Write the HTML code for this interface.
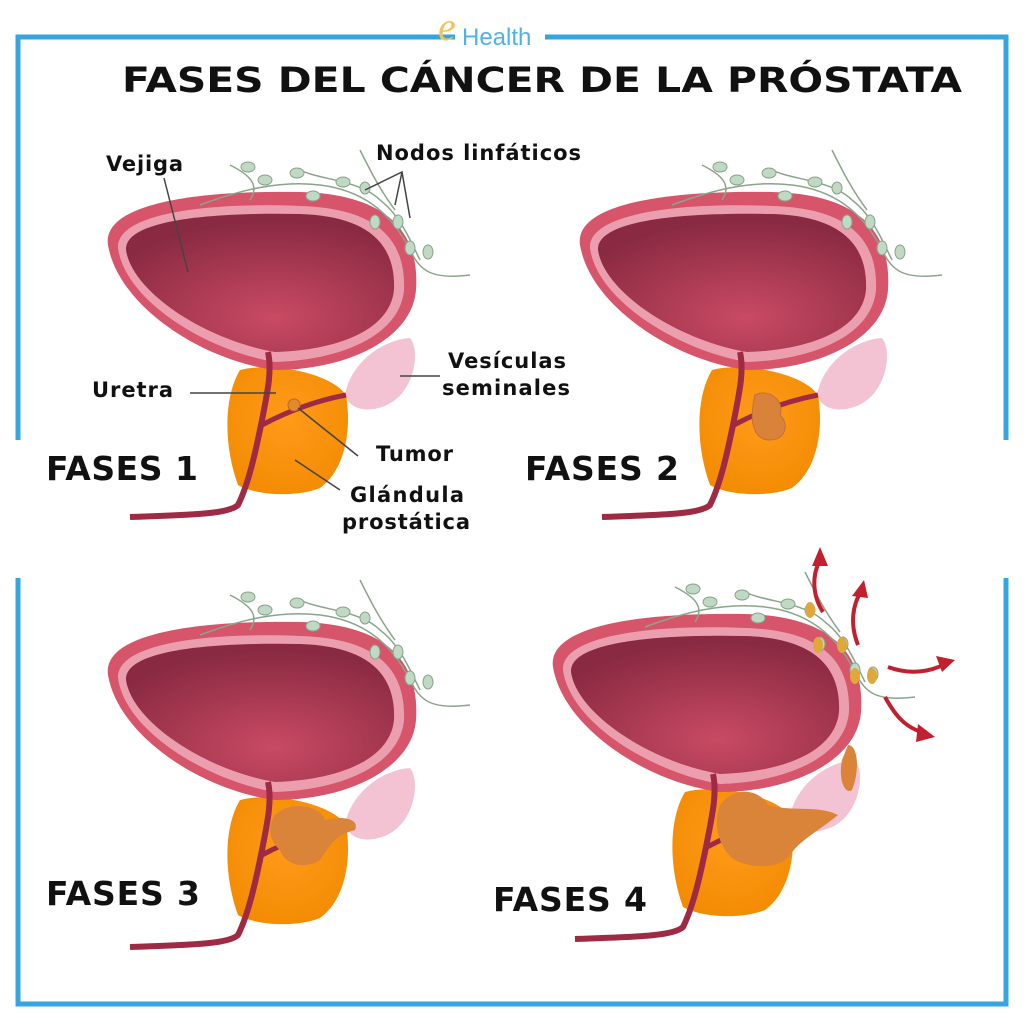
<!DOCTYPE html>
<html><head><meta charset="utf-8"><style>
html,body{margin:0;padding:0;background:#fff;}
svg{display:block;}
text{font-family:"DejaVu Sans","Liberation Sans",sans-serif;font-weight:bold;fill:#111;}
</style></head><body>
<svg width="1024" height="1024" viewBox="0 0 1024 1024" xmlns="http://www.w3.org/2000/svg">
<defs>
<radialGradient id="inner" cx="0.55" cy="0.75" r="0.7">
<stop offset="0" stop-color="#c94a63"/><stop offset="1" stop-color="#8a2a42"/>
</radialGradient>
<radialGradient id="pros" cx="0.5" cy="0.4" r="0.7">
<stop offset="0" stop-color="#ff9a1a"/><stop offset="1" stop-color="#f28a00"/>
</radialGradient>
<g id="organ">
  <path d="M345,395 C350,365 380,340 410,338 C420,350 415,385 395,400 C380,412 352,415 345,395Z" fill="#f3c3d3"/>
  <path d="M240,370 C270,362 330,372 346,395 C352,430 345,470 320,488 C295,498 255,495 238,485 C225,450 222,400 240,370Z" fill="url(#pros)"/>
  <path d="M275,370 C200,360 118,305 108,245 C102,205 190,190 300,192 C385,194 420,230 416,290 C412,340 345,370 275,370Z" fill="#d6556b"/>
  <path d="M275,362 C205,350 125,300 118,248 C116,215 200,202 300,206 C375,208 406,238 404,290 C400,336 340,360 275,362Z" fill="#eb9fae"/>
  <path d="M275,352 C205,340 132,292 126,250 C124,222 200,212 300,214 C368,216 396,244 394,290 C390,330 338,350 275,352Z" fill="url(#inner)"/>
  <path d="M268,352 C272,370 268,390 262,420 C255,455 248,485 238,505 C228,515 180,515 130,517" fill="none" stroke="#9e2a43" stroke-width="6"/>
  <path d="M262,425 C290,410 320,400 346,395" fill="none" stroke="#9e2a43" stroke-width="5"/>
  <g fill="none" stroke="#8aa58a" stroke-width="1.5">
    <path d="M200,205 C240,190 280,180 320,185 C360,190 390,210 410,250 C420,270 430,280 470,275"/>
    <path d="M230,165 C250,175 260,185 250,200"/>
    <path d="M300,170 C320,180 360,180 380,200 C400,215 410,240 420,260"/>
    <path d="M360,150 C370,170 380,190 395,210"/>
  </g>
  <g fill="#bfd9c5" stroke="#8aa58a" stroke-width="1">
    <ellipse cx="248" cy="167" rx="7" ry="5"/>
    <ellipse cx="265" cy="180" rx="7" ry="5"/>
    <ellipse cx="297" cy="173" rx="7" ry="5"/>
    <ellipse cx="313" cy="196" rx="7" ry="5"/>
    <ellipse cx="343" cy="182" rx="7" ry="5"/>
    <ellipse cx="365" cy="188" rx="5" ry="6"/>
    <ellipse cx="375" cy="222" rx="5" ry="7"/>
    <ellipse cx="398" cy="222" rx="5" ry="7"/>
    <ellipse cx="410" cy="248" rx="5" ry="7"/>
    <ellipse cx="428" cy="252" rx="5" ry="7"/>
  </g>
</g>
</defs>

<g stroke="#35a5e0" stroke-width="5" fill="none">
  <path d="M18,440 L18,37 L455,37"/>
  <path d="M545,37 L1006,37 L1006,440"/>
  <path d="M18,578 L18,1004 L1006,1004 L1006,578"/>
</g>
<text x="462" y="45" style="font-weight:normal;fill:#4db3e6;font-family:'Liberation Sans',sans-serif" font-size="24">Health</text>
<text x="438" y="40" style="font-style:italic;font-weight:normal;fill:#f2c453;font-family:'Liberation Serif',serif" font-size="40">e</text>

<text x="122" y="92" font-size="35" textLength="840" lengthAdjust="spacingAndGlyphs">FASES DEL CÁNCER DE LA PRÓSTATA</text>

<use href="#organ"/>
<use href="#organ" transform="translate(472,0)"/>
<use href="#organ" transform="translate(0,430)"/>
<use href="#organ" transform="translate(445,422)"/>

<circle cx="294" cy="405" r="6" fill="#e08a30" stroke="#b86a20"/>
<path d="M755,395 C768,388 785,400 780,415 C790,425 785,440 770,440 C755,440 748,425 755,395Z" fill="#d9833a" stroke="#c0703a"/>
<path d="M275,815 C290,800 320,805 325,820 C345,815 360,820 355,830 C335,835 330,845 320,860 C305,870 285,865 280,850 C268,840 268,825 275,815Z" fill="#d98438"/>
<path d="M720,805 C735,785 760,790 768,805 C790,812 820,805 838,815 C820,830 800,840 790,855 C780,870 750,868 735,860 C720,850 712,825 720,805Z" fill="#d98438"/>
<path d="M848,745 C858,745 860,770 852,790 C845,795 838,780 842,760Z" fill="#d98438"/>

<g fill="#e0a83a">
<ellipse cx="810" cy="610" rx="5" ry="8"/><ellipse cx="818" cy="645" rx="5" ry="8"/>
<ellipse cx="842" cy="645" rx="5" ry="8"/><ellipse cx="855" cy="676" rx="5" ry="8"/><ellipse cx="872" cy="676" rx="5" ry="8"/>
</g>
<g fill="none" stroke="#c21f2f" stroke-width="4">
<path d="M823,612 C812,595 812,575 820,560"/>
<path d="M858,645 C850,625 852,605 862,590"/>
<path d="M888,667 C910,675 930,672 945,664"/>
<path d="M885,697 C895,715 905,728 925,733"/>
</g>
<g fill="#c21f2f">
<path d="M820,547 L812,566 L828,566Z"/>
<path d="M864,580 L852,596 L868,598Z"/>
<path d="M955,660 L936,656 L942,672Z"/>
<path d="M935,737 L918,724 L916,742Z"/>
</g>

<g font-size="21">
<text x="106" y="171" textLength="77">Vejiga</text>
<text x="376" y="160" textLength="205">Nodos linfáticos</text>
<text x="448" y="368" textLength="118">Vesículas</text>
<text x="442" y="395" textLength="128">seminales</text>
<text x="92" y="397" textLength="81">Uretra</text>
<text x="376" y="461" textLength="77">Tumor</text>
<text x="350" y="502" textLength="114">Glándula</text>
<text x="342" y="529" textLength="128">prostática</text>
</g>
<g stroke="#444" stroke-width="1.5" fill="none">
<path d="M164,178 L188,272"/>
<path d="M365,190 L402,172 L410,218 M402,172 L395,205"/>
<path d="M400,376 L440,376"/>
<path d="M190,393 L276,393"/>
<path d="M298,408 L358,456"/>
<path d="M295,460 L340,490"/>
</g>
<g font-size="33">
<text x="46" y="480" textLength="152">FASES 1</text>
<text x="525" y="480" textLength="154">FASES 2</text>
<text x="46" y="905" textLength="154">FASES 3</text>
<text x="493" y="911" textLength="154">FASES 4</text>
</g>
</svg>
</body></html>
